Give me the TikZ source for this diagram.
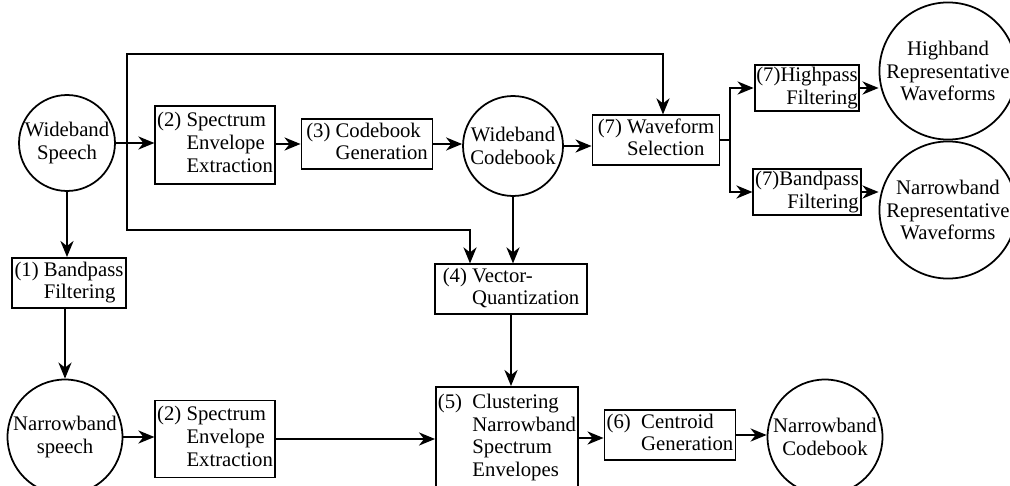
\documentclass[tikz,border=0pt]{standalone}
\usepackage{fontspec}
\setmainfont{Liberation Serif}
\usetikzlibrary{arrows.meta}

\begin{document}
\begin{tikzpicture}[
		x=0.02cm, y=-0.02cm,
		every node/.style={font=\fontsize{11.8}{13}\selectfont, inner sep=1pt},
		box/.style={rectangle, draw, line width=1.1pt},
		blob/.style={circle, draw, line width=1pt, inner sep=0pt, align=center},
		link/.style={line width=1.5pt},
		arr/.style={link, -{Stealth[length=0.32cm, width=0.26cm, inset=0.1cm]}}]

		\useasboundingbox (0,0) rectangle (1010,486);
		\clip (0,0) rectangle (1010,486);

		\node[blob, minimum size=1.92cm] (ws) at (67,143) {Wideband\\Speech};
		\node[box, minimum width=2.36cm, minimum height=1.56cm] (spa) at (215,145)
			{\begin{tabular}{@{}l@{ }l@{}}(2)&Spectrum\\&Envelope\\&Extraction\end{tabular}};
		\node[box, minimum width=2.62cm, minimum height=0.96cm] (cbg) at (367,144)
			{\begin{tabular}{@{}l@{ }l@{}}(3)&Codebook\\&Generation\end{tabular}};
		\node[blob, minimum size=2cm] (wc) at (513,146) {Wideband\\Codebook};
		\node[box, minimum width=2.54cm, minimum height=0.92cm] (wfs) at (656,140)
			{\begin{tabular}{@{}l@{ }l@{}}(7)&Waveform\\&Selection\end{tabular}};
		\node[box, minimum width=2cm, minimum height=0.9cm, align=right] (hp) at (807,88) {(7)Highpass\\Filtering};
		\node[box, minimum width=2cm, minimum height=0.82cm, align=right] (bpn) at (807,192) {(7)Bandpass\\Filtering};
		\node[blob, minimum size=2.64cm] (hb) at (948,71) {Highband\\Representative\\Waveforms};
		\node[blob, minimum size=2.56cm] (nr) at (948,210) {Narrowband\\Representative\\Waveforms};

		\node[box, minimum width=2.28cm, minimum height=1cm] (bpf) at (69,283)
			{\begin{tabular}{@{}l@{ }l@{}}(1)&Bandpass\\&Filtering\end{tabular}};
		\node[box, minimum width=3.04cm, minimum height=0.94cm] (vq) at (511,289)
			{\begin{tabular}{@{}l@{ }l@{}}(4)&Vector-\\&Quantization\end{tabular}};

		\node[blob, minimum size=2.3cm] (ns) at (65,437) {Narrowband\\speech};
		\node[box, minimum width=2.38cm, minimum height=1.54cm] (spb) at (215,439)
			{\begin{tabular}{@{}l@{ }l@{}}(2)&Spectrum\\&Envelope\\&Extraction\end{tabular}};
		\node[box, minimum width=2.84cm, minimum height=2.04cm] (cl) at (507,438)
			{\begin{tabular}{@{}l@{\ \ }l@{}}(5)&Clustering\\&Narrowband\\&Spectrum\\&Envelopes\end{tabular}};
		\node[box, minimum width=2.62cm, minimum height=1cm] (cg) at (670,435)
			{\begin{tabular}{@{}l@{\ \ }l@{}}(6)&Centroid\\&Generation\end{tabular}};
		\node[blob, minimum size=2.3cm] (nc) at (825,437) {Narrowband\\Codebook};

		\coordinate (br) at (127,143);
		\coordinate (tl) at (127,54);
		\coordinate (bl) at (127,230);
		\coordinate (fk) at (730,140);

		\draw[arr] (ws) -- (ws -| spa.west);
		\draw[arr] (spa.east |- cbg) -- (cbg);
		\draw[arr] (cbg) -- (cbg -| wc.west);
		\draw[arr] (wc) -- (wc -| wfs.west);
		\draw[arr] (br) -- (tl) -| ([xshift=0.14cm]wfs.north);
		\draw[arr] (br) -- (bl) -| ([xshift=-0.82cm]vq.north);
		\draw[link] (wfs) -- (fk);
		\draw[arr] (fk) |- (hp);
		\draw[arr] (fk) |- (bpn);
		\draw[arr] (hp) -- (hp -| hb.west);
		\draw[arr] (bpn) -- (bpn -| nr.west);

		\draw[arr] (ws) -- (ws |- bpf.north);
		\draw[arr] (bpf.south -| ns) -- (ns);
		\draw[arr] (ns) -- (ns -| spb.west);
		\draw[arr] (spb) -- (spb -| cl.west);
		\draw[arr] (wc) -- (wc |- vq.north);
		\draw[arr] (vq) -- (vq |- cl.north);
		\draw[arr] (cl) -- (cl -| cg.west);
		\draw[arr] (cg) -- (cg -| nc.west);

\end{tikzpicture}
\end{document}
